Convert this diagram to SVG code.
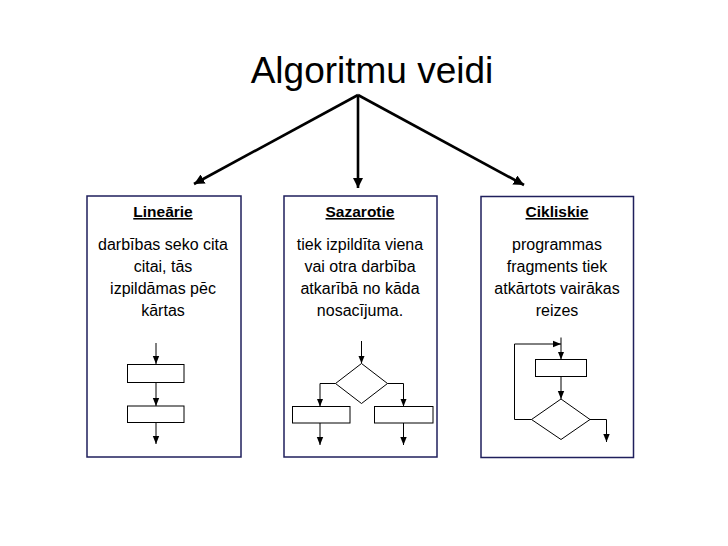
<svg xmlns="http://www.w3.org/2000/svg" width="728" height="546" viewBox="0 0 728 546">
<style>
.t{font-family:"Liberation Sans",Arial,sans-serif;fill:#000;text-anchor:middle}
.title{font-size:37px}
.hd{font-size:15.5px;font-weight:bold;text-decoration:underline}
.body{font-size:16px}
.box{fill:#fff;stroke:#1f1f5c;stroke-width:1.5}
.fc{fill:#fff;stroke:#000;stroke-width:1}
.ln{fill:none;stroke:#000;stroke-width:1}
.big{fill:none;stroke:#000;stroke-width:2.6}
</style>
<defs>
<marker id="sa" viewBox="0 0 10 10" refX="10" refY="5" markerWidth="8" markerHeight="8" markerUnits="userSpaceOnUse" orient="auto"><path d="M0,1 L10,5 L0,9 z" fill="#000"/></marker>
<marker id="ba" viewBox="0 0 10 10" refX="10" refY="5" markerWidth="4" markerHeight="4" orient="auto"><path d="M0,0 L10,5 L0,10 z" fill="#000"/></marker>
</defs>
<rect width="728" height="546" fill="#fff"/>
<g id="title"><text class="t title" x="372" y="83">Algoritmu veidi</text></g>
<g id="connectors">
<line class="big" x1="358" y1="95" x2="194" y2="184" marker-end="url(#ba)"/>
<line class="big" x1="358" y1="95" x2="358" y2="188" marker-end="url(#ba)"/>
<line class="big" x1="358" y1="95" x2="524" y2="185" marker-end="url(#ba)"/>
</g>
<g id="linearie">
<rect class="box" x="87" y="196" width="154" height="261"/>
<text class="t hd" x="163" y="217">Lineārie</text>
<text class="t body" x="163" y="250">darbības seko cita</text>
<text class="t body" x="163" y="272">citai, tās</text>
<text class="t body" x="163" y="294">izpildāmas pēc</text>
<text class="t body" x="163" y="316">kārtas</text>
<line class="ln" x1="156" y1="343" x2="156" y2="364" marker-end="url(#sa)"/>
<rect class="fc" x="127.5" y="364.5" width="56.5" height="18"/>
<line class="ln" x1="156" y1="382.5" x2="156" y2="406" marker-end="url(#sa)"/>
<rect class="fc" x="127.5" y="406" width="56.5" height="16.5"/>
<line class="ln" x1="156" y1="422.5" x2="156" y2="444" marker-end="url(#sa)"/>
</g>
<g id="sazarotie">
<rect class="box" x="284" y="196" width="153" height="261"/>
<text class="t hd" x="360" y="217">Sazarotie</text>
<text class="t body" x="360" y="250">tiek izpildīta viena</text>
<text class="t body" x="360" y="272">vai otra darbība</text>
<text class="t body" x="360" y="294">atkarībā no kāda</text>
<text class="t body" x="360" y="316">nosacījuma.</text>
<line class="ln" x1="361.5" y1="341" x2="361.5" y2="363.5" marker-end="url(#sa)"/>
<polygon class="fc" points="361.5,363.5 387.5,383.5 361.5,403.5 335.5,383.5"/>
<polyline class="ln" points="335.5,383.5 320,383.5 320,406.5" marker-end="url(#sa)"/>
<polyline class="ln" points="387.5,383.5 403.5,383.5 403.5,406.5" marker-end="url(#sa)"/>
<rect class="fc" x="292.5" y="406.5" width="57.5" height="16.5"/>
<rect class="fc" x="374.5" y="406.5" width="58.5" height="16.5"/>
<line class="ln" x1="320" y1="423" x2="320" y2="445" marker-end="url(#sa)"/>
<line class="ln" x1="403.5" y1="423" x2="403.5" y2="445" marker-end="url(#sa)"/>
</g>
<g id="cikliskie">
<rect class="box" x="481" y="196.5" width="152.5" height="261"/>
<text class="t hd" x="557" y="217">Cikliskie</text>
<text class="t body" x="557" y="250">programmas</text>
<text class="t body" x="557" y="272">fragments tiek</text>
<text class="t body" x="557" y="294">atkārtots vairākas</text>
<text class="t body" x="557" y="316">reizes</text>
<line class="ln" x1="561" y1="337.5" x2="561" y2="359.5" marker-end="url(#sa)"/>
<rect class="fc" x="535.5" y="359.5" width="51" height="17"/>
<line class="ln" x1="561" y1="376.5" x2="561" y2="399" marker-end="url(#sa)"/>
<polygon class="fc" points="561,399 590,419.5 561,439.5 531.5,419.5"/>
<polyline class="ln" points="531.5,419.5 514.5,419.5 514.5,344 561,344" marker-end="url(#sa)"/>
<polyline class="ln" points="590,419.5 606.5,419.5 606.5,442" marker-end="url(#sa)"/>
</g>
</svg>
